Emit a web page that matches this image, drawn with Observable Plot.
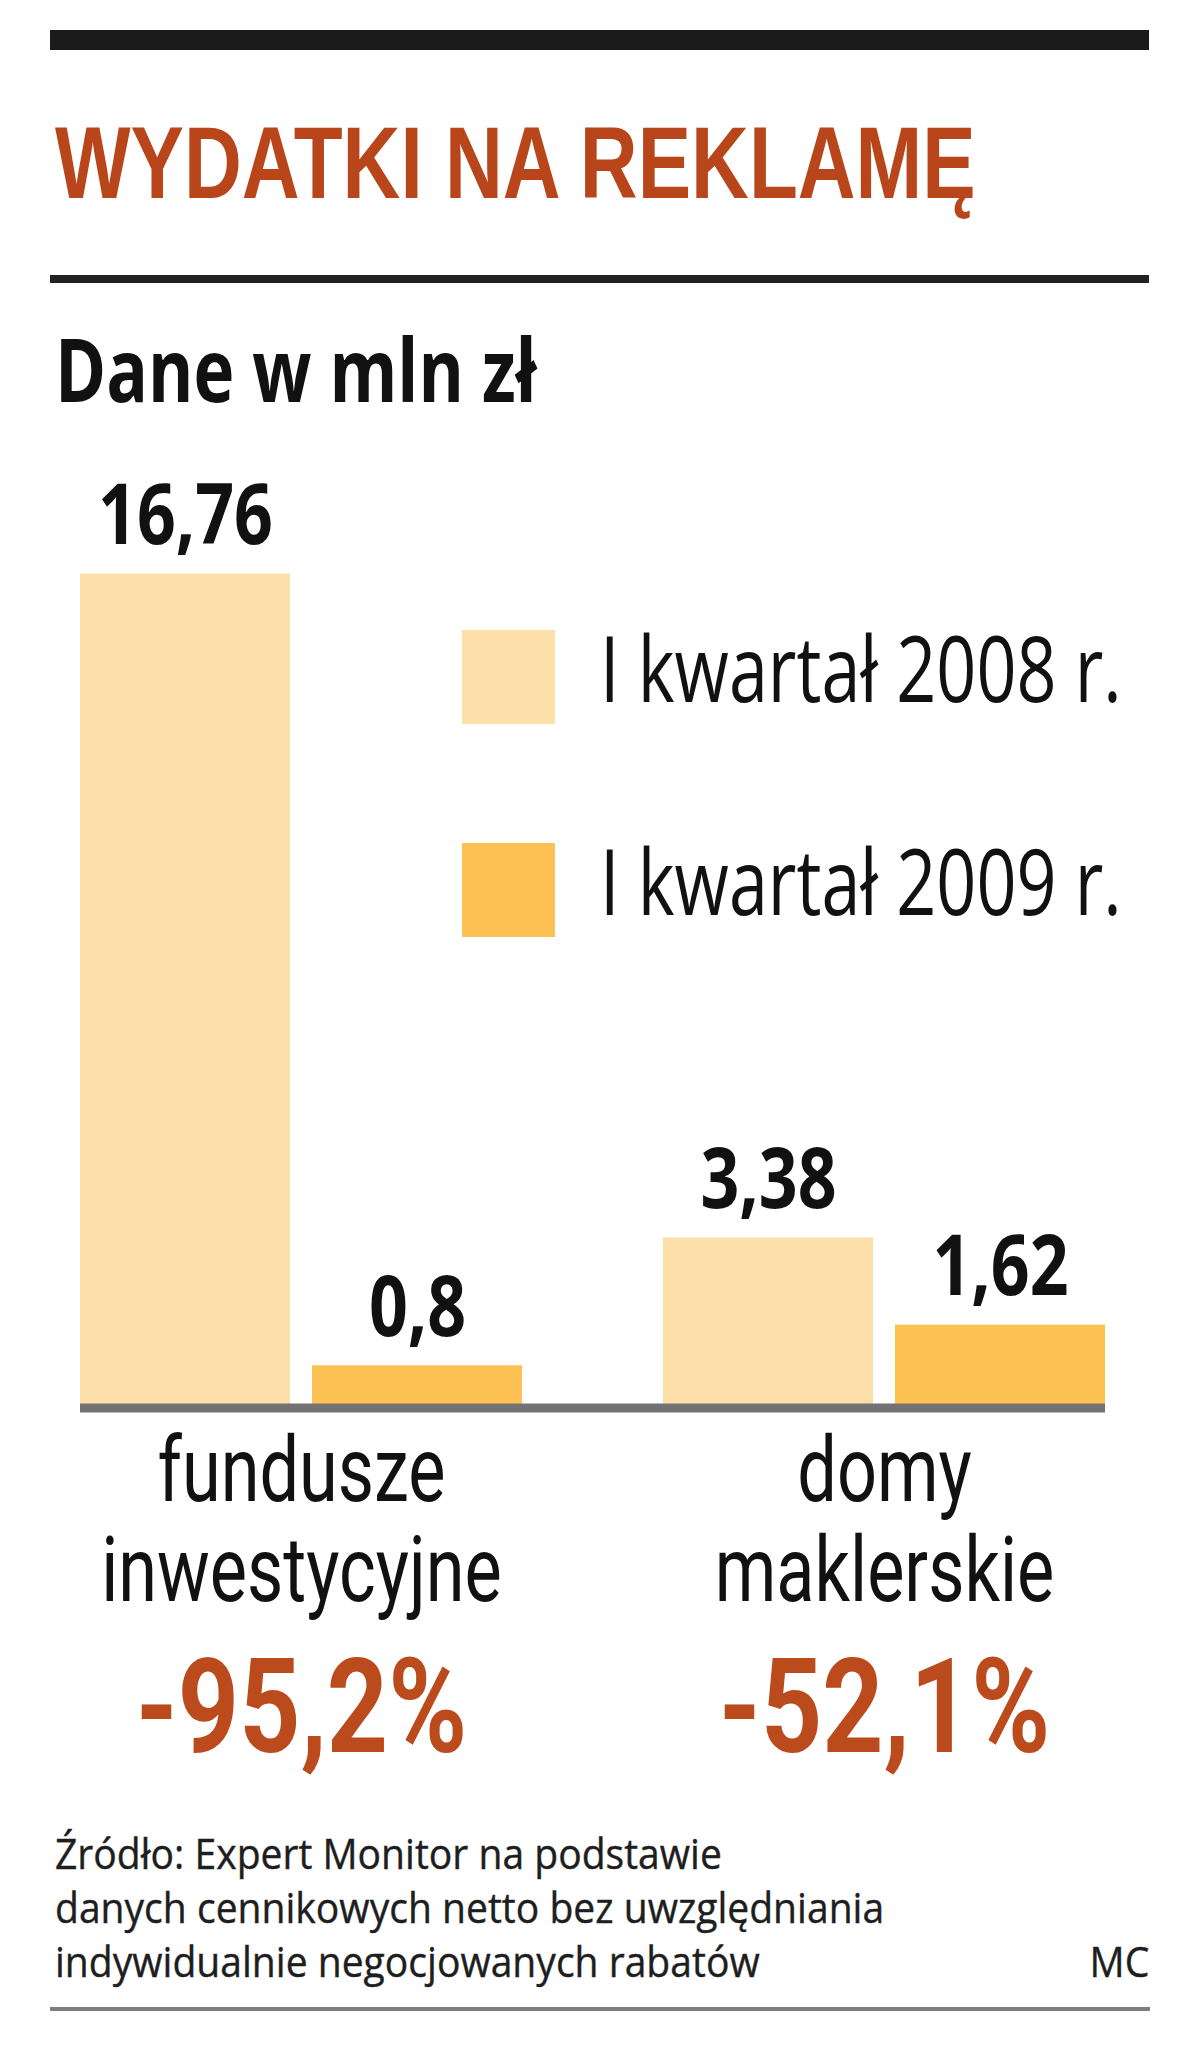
<!DOCTYPE html>
<html>
<head>
<meta charset="utf-8">
<script src="https://cdn.jsdelivr.net/npm/d3@7"></script>
<script src="https://cdn.jsdelivr.net/npm/@observablehq/plot@0.6"></script>
<style>
  html, body { margin: 0; padding: 0; background: #fff; }
  #page { position: relative; width: 1200px; height: 2052px; overflow: hidden; background: #fff; }
  .abs { position: absolute; white-space: nowrap; }
  .rule { position: absolute; }
</style>
</head>
<body>
<div id="page"></div>
<script>
// ---- data ----
const categories = ["fundusze inwestycyjne", "domy maklerskie"];
const years = ["I kwartał 2008 r.", "I kwartał 2009 r."];
const values2008 = [16.76, 3.38];
const values2009 = [0.8, 1.62];
const colors = ["#fddfa9", "#fcc153"];
const title = "WYDATKI NA REKLAMĘ";
const subtitle = "Dane w mln zł";
const sourceLines = [
  "Źródło: Expert Monitor na podstawie",
  "danych cennikowych netto bez uwzględniania",
  "indywidualnie negocjowanych rabatów"
];
const author = "MC";

// ---- derived tables ----
const rows = categories.flatMap((c, i) => [
  {cat: c, year: years[0], value: values2008[i]},
  {cat: c, year: years[1], value: values2009[i]}
]);
const catRows = categories.map((c, i) => ({
  cat: c,
  change: ((values2009[i] / values2008[i] - 1) * 100).toFixed(1).replace(".", ",") + "%"
}));
const fmt = v => String(v).replace(".", ",");

const page = document.getElementById("page");
function add(html) { page.insertAdjacentHTML("beforeend", html); }

// header
add(`<div class="rule" style="left:50px;top:30px;width:1099px;height:20px;background:#1b1b1b"></div>`);
add(`<div class="abs" style="left:55px;top:112px;font:bold 102px/102px 'Liberation Sans',Arial,sans-serif;color:#b9461b;transform:scaleX(0.785);transform-origin:0 0">${title}</div>`);
add(`<div class="rule" style="left:50px;top:275px;width:1099px;height:8px;background:#222"></div>`);
add(`<div class="abs" style="left:55px;top:325px;font:bold 87px/87px 'Open Sans',sans-serif;color:#111;transform:scaleX(0.795);transform-origin:0 0">${subtitle}</div>`);

// chart
const svgTop = 420;
const chart = Plot.plot({
  width: 1200,
  height: 1400,
  marginLeft: 80,
  marginRight: 95,
  marginTop: 92,
  marginBottom: 415,
  style: {background: "transparent", fontFamily: "'Open Sans', sans-serif"},
  x: {domain: categories, paddingInner: 0.2419, paddingOuter: 0, round: false, axis: null},
  y: {domain: [0, 18], axis: null},
  color: {domain: years, range: colors},
  marks: [
    Plot.barY(rows.filter(d => d.year === years[0]), {x: "cat", y: "value", fill: "year", insetRight: 232}),
    Plot.barY(rows.filter(d => d.year === years[1]), {x: "cat", y: "value", fill: "year", insetLeft: 232}),
    Plot.ruleY([0], {stroke: "#737373", strokeWidth: 9, dy: 2.5}),
    Plot.text(rows.filter(d => d.year === years[0]), {x: "cat", y: "value", text: d => fmt(d.value), dx: -116, dy: -30, lineAnchor: "bottom", fontSize: 84, fontWeight: "bold", fill: "#111"}),
    Plot.text(rows.filter(d => d.year === years[1]), {x: "cat", y: "value", text: d => fmt(d.value), dx: 116, dy: -30, lineAnchor: "bottom", fontSize: 84, fontWeight: "bold", fill: "#111"}),
    Plot.text(catRows, {x: "cat", y: () => 0, text: d => d.cat.replace(" ", "\n"), dy: 195, lineAnchor: "bottom", lineHeight: 100 / 90, fontSize: 90, fontFamily: "Roboto, sans-serif", fill: "#111"}),
    Plot.text(catRows, {x: "cat", y: () => 0, text: "change", dy: 346, lineAnchor: "bottom", fontSize: 132, fontWeight: "bold", fontFamily: "Roboto, sans-serif", fill: "#bb4a1d"})
  ]
});
chart.style.position = "absolute";
chart.style.left = "0px";
chart.style.top = svgTop + "px";
page.appendChild(chart);

// condense SVG text (narrow typeface look)
const factors = [0.81, 0.81, 0.78, 0.81];
function condense(el, f) {
  const L = el.getComputedTextLength();
  el.setAttribute("textLength", (L * f).toFixed(1));
  el.setAttribute("lengthAdjust", "spacingAndGlyphs");
}
chart.querySelectorAll('g[aria-label="text"]').forEach((g, gi) => {
  const f = factors[gi] ?? 0.8;
  g.querySelectorAll("text").forEach(t => {
    const spans = t.querySelectorAll("tspan");
    if (spans.length) spans.forEach(s => condense(s, f));
    else condense(t, f);
  });
});

// legend (inside chart area)
years.forEach((y, i) => {
  const top = 630 + i * 213;
  add(`<div class="rule" style="left:462px;top:${top}px;width:93px;height:94px;background:${colors[i]}"></div>`);
  add(`<div class="abs" style="left:600px;top:${top - 8}px;font:400 91px/91px 'Open Sans',sans-serif;color:#111;transform:scaleX(0.77);transform-origin:0 0">${y}</div>`);
});

// footer
add(`<div class="abs" style="left:55px;top:1826px;font:400 42px/54px 'Open Sans',sans-serif;color:#1e1e1e;-webkit-text-stroke:0.4px #1e1e1e;transform:scaleX(0.93);transform-origin:0 0">${sourceLines.join("<br>")}</div>`);
add(`<div class="abs" style="right:51px;top:1934px;font:400 42px/54px 'Open Sans',sans-serif;color:#1e1e1e;-webkit-text-stroke:0.4px #1e1e1e;transform:scaleX(0.93);transform-origin:100% 0">${author}</div>`);
add(`<div class="rule" style="left:50px;top:2007px;width:1100px;height:4px;background:#7d7d7d"></div>`);
</script>
</body>
</html>
